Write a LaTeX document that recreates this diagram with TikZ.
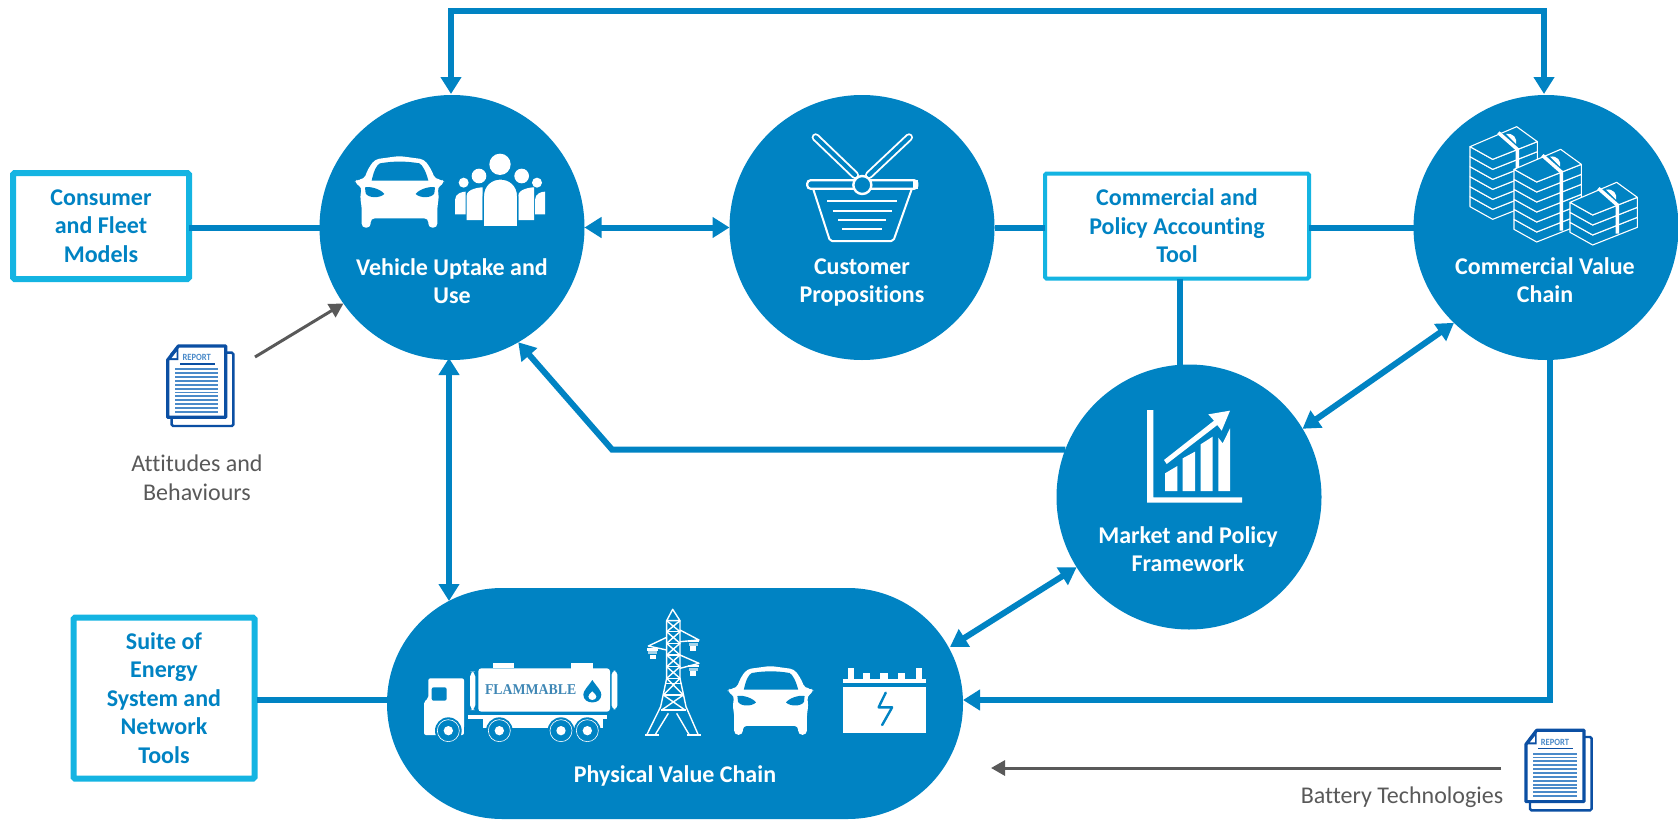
\documentclass[tikz,border=0pt]{standalone}
\usepackage{fontspec}
\setmainfont[Ligatures={NoCommon}]{Carlito}
\newfontfamily\flamfont{Liberation Serif}
\usetikzlibrary{arrows.meta}
\definecolor{mainblue}{HTML}{0083C3}
\definecolor{boxblue}{HTML}{14B4E2}
\definecolor{greyink}{HTML}{595959}
\definecolor{repblue}{HTML}{0B4FA3}
\definecolor{repline}{HTML}{4A8AC9}
\definecolor{flamblue}{HTML}{3F87B5}
\tikzset{
  hub/.style={circle,fill=mainblue,draw=none,inner sep=0pt,outer sep=0pt,minimum size=265pt},
  chainshape/.style={rectangle,fill=mainblue,draw=none,rounded corners=115pt,inner sep=0pt,outer sep=0pt,minimum width=576pt,minimum height=231pt},
  toolbox/.style={rectangle,draw=boxblue,line width=6pt,rounded corners=1.5pt,fill=white,inner sep=0pt,outer sep=0pt,align=center,text=mainblue,font=\fontsize{24}{28.6}\selectfont\bfseries},
  hubtext/.style={align=center,text=white,inner sep=0pt,font=\fontsize{24}{28}\selectfont\bfseries},
  greytext/.style={align=center,text=greyink,inner sep=0pt,font=\fontsize{24}{29}\selectfont},
  link/.style={draw=mainblue,line width=6pt},
  biglink/.style={link,{Triangle[length=17pt,width=20pt]}-{Triangle[length=17pt,width=20pt]}},
  onelink/.style={link,-{Triangle[length=17pt,width=20pt]}},
  greylink/.style={draw=greyink,line width=3pt,-{Triangle[length=14pt,width=15pt]}},
  zoomed/.style={x=0.33333pt,y=-0.33333pt},
}
\newcommand{\carshape}{%
  \fill[white,rounded corners=4pt] (185,443)--(185,380)--(180,350)--(186,322)--(162,308)--(172,298)--(192,298)--(205,265)--(225,238)--(298,228)--(372,238)--(392,265)--(406,298)--(425,298)--(435,308)--(412,322)--(417,350)--(412,380)--(412,443)--(385,443)--(385,415)--(212,415)--(212,443)--cycle;
  \fill[mainblue] (215,302) .. controls (222,270) and (230,255) .. (240,250) .. controls (280,243) and (318,243) .. (358,250) .. controls (368,255) and (378,275) .. (385,302) -- cycle;
  \fill[mainblue] (195,322) .. controls (215,318) and (245,330) .. (253,342) .. controls (240,355) and (205,355) .. (197,340) -- cycle;
  \fill[mainblue] (405,322) .. controls (385,318) and (355,330) .. (347,342) .. controls (360,355) and (395,355) .. (403,340) -- cycle;
}
\newcommand{\reportshape}{%
  \draw[repblue,line width=2.4pt,fill=white,rounded corners=1.5pt] (125,158) rectangle (310,378);
  \draw[repblue,line width=3.2pt,fill=white,line join=round] (145,138)--(287,138)--(287,352)--(113,352)--(113,180)--cycle;
  \fill[repblue] (113,180)--(145,138)--(145,180)--cycle;
  \fill[white] (125,174)--(140,155)--(140,174)--cycle;
  \node[inner sep=0pt,text=repline,font=\fontsize{9.5}{10}\selectfont\bfseries,xscale=.9] at (200,173) {REPORT};
  \draw[repblue,line width=1.2pt] (150,192)--(255,192);
  \foreach \yy in {208,219.6,231.2,242.8,254.4,266,277.6,289.2,300.8,312.4,324,335.6}
    \draw[repline,line width=1.9pt] (135,\yy)--(265,\yy);
}
\newcommand{\moneystack}[3]{%
  \begin{scope}[shift={(#1,#2)}]
  \pgfmathtruncatemacro{\nn}{#3}
  \foreach \i in {\nn,...,1}{
    \pgfmathsetmacro{\tp}{(\i-1)*30}
    \pgfmathsetmacro{\bt}{\i*30}
    \draw[white,line width=1.1pt,fill=mainblue,line join=round] (0,\tp)--(68,38+\tp)--(202,-15+\tp)--(202,-15+\bt)--(68,38+\bt)--(0,\bt)--cycle;
  }
  \draw[white,line width=1.1pt,fill=mainblue,line join=round] (0,0)--(140,-60)--(202,-15)--(68,38)--cycle;
  \fill[white] (108,-38) .. controls (130,-42) and (142,-25) .. (138,-8) -- cycle;
  \draw[white,line width=3.5pt] (85,-42)--(142,8)--(142,{4+30*\nn});
  \end{scope}
}
\begin{document}
\begin{tikzpicture}[x=1pt,y=-1pt]
\useasboundingbox (0,0) rectangle (1678,819);
% main shapes
\node[hub] (vu) at (452,227.5) {};
\node[hub] (cp) at (862,227.5) {};
\node[hub] (cv) at (1546,227.5) {};
\node[hub] (mp) at (1189,497) {};
\node[chainshape] (pv) at (675,703.5) {};
% tool boxes
\node[toolbox,minimum width=176pt,minimum height=106pt] (cf) at (101,226) {Consumer\\and Fleet\\Models};
\node[toolbox,line width=4pt,minimum width=264pt,minimum height=105pt] (ca) at (1177,226) {Commercial and\\Policy Accounting\\Tool};
\node[toolbox,minimum width=181pt,minimum height=161pt] (st) at (164,698) {Suite of\\Energy\\System and\\Network\\Tools};
% free corners and ends on the outline of the chain
\coordinate (tl) at (451,11);
\coordinate (tr) at (1544,11);
\coordinate (vtop) at (451,94);
\coordinate (ctop) at (1544,94);
\coordinate (vd) at (449,358);
\coordinate (pvt) at (449,601);
\coordinate (mbend) at (612,450);
\coordinate (cdown) at (1550,358);
\coordinate (cbend) at (1550,700);
\coordinate (pvr) at (963,700);
\coordinate (pvur) at (950,647);
\coordinate (sr) at (257,700);
\coordinate (pvl) at (387,700);
\coordinate (rep1) at (255,357);
\coordinate (rep2) at (1501,768);
\coordinate (pvb) at (991,768);
% connectors
\draw[biglink] (vtop) -- (tl) -- (tr) -- (ctop);
\draw[link] (cf.east |- vu.west) -- (vu.west);
\draw[biglink] (vu.east) -- (cp.west);
\draw[link] (cp.east) -- (ca.west |- cp.east);
\draw[link] (ca.east |- cv.west) -- (cv.west);
\draw[link] (mp.94 |- ca.south) -- (mp.94);
\draw[onelink,line join=miter] (mp.159) -- (mp.159 -| mbend) -- (vu.-60);
\draw[biglink] (mp.31) -- (cv.-134);
\draw[biglink] (vd) -- (pvt);
\draw[biglink] (mp.-148) -- (pvur);
\draw[onelink] (cdown) -- (cbend) -- (pvr);
\draw[link] (sr) -- (pvl);
\draw[greylink] (rep1) -- (vu.-145);
\draw[greylink] (rep2) -- (pvb);
% hub texts
\node[hubtext] (t1) at (452,281) {Vehicle Uptake and\\Use};
\node[hubtext] (t2) at (862,282.5) {Customer\\Propositions};
\node[hubtext] (t3) at (1545,280) {Commercial Value\\Chain};
\node[hubtext] (t4) at (1188,549) {Market and Policy\\Framework};
\node[hubtext] (t5) at (675,776) {Physical Value Chain};
\node[greytext] (g1) at (197,477.5) {Attitudes and\\Behaviours};
\node[greytext] (g2) at (1402,797) {Battery Technologies};
% car + people
\begin{scope}[shift={(300,80)},zoomed]
  \carshape
  \foreach \xa/\xb/\ya/\yb/\hx/\hy/\hr in {465/497/335/403/491/308/15,705/735/335/403/711/308/15,500/548/322/420/537/288/22,655/702/322/420/665/288/22}{
    \fill[white] (\hx,\hy) circle (\hr);
    \fill[white] (\xa,\yb) -- (\xa,\ya+25) .. controls (\xa,\ya+5) and (\xb-10,\ya) .. (\xb,\ya) -- (\xb,\yb) -- cycle;
  }
  \fill[white] (600,253) circle (32);
  \draw[mainblue,line width=1.2pt,fill=white] (550,440)--(550,350) .. controls (550,315) and (575,297) .. (601,297) .. controls (628,297) and (653,315) .. (653,350) -- (653,440) -- cycle;
\end{scope}
% basket
\begin{scope}[shift={(720,80)},zoomed]
  \foreach \xa/\ya/\xb/\yb in {287/172/405/285,567/172/447/285}{
    \draw[white,line width=8pt,line cap=round] (\xa,\ya)--(\xb,\yb);
    \draw[mainblue,line width=4.2pt,line cap=round] (\xa,\ya)--(\xb,\yb);
  }
  \draw[white,line width=2pt,line join=round,rounded corners=2pt] (280,328)--(330,483)--(520,483)--(575,328);
  \draw[white,line width=2.2pt,rounded corners=3pt] (262,301) rectangle (592,326);
  \fill[white] (580,299) rectangle (594,328);
  \draw[white,line width=2.4pt,fill=mainblue] (427,315) circle (27);
  \foreach \xa/\xb/\yy in {322/530/364,338/515/392,355/497/420,367/485/448}
    \draw[white,line width=2.2pt] (\xa,\yy)--(\xb,\yy);
\end{scope}
% money
\begin{scope}[shift={(1400,100)},zoomed]
  \moneystack{210}{140}{6}
  \moneystack{342}{208}{6}
  \moneystack{510}{307}{3}
\end{scope}
% chart
\begin{scope}[shift={(1100,390)},zoomed]
  \fill[white] (141,60)--(160,60)--(160,322)--(426,322)--(426,338)--(141,338)--cycle;
  \fill[white] (195,250)--(232,228)--(232,303)--(195,303)--cycle;
  \fill[white] (248,205)--(285,185)--(285,303)--(248,303)--cycle;
  \fill[white] (302,163)--(338,140)--(338,303)--(302,303)--cycle;
  \fill[white] (355,143)--(368,160)--(390,115)--(390,303)--(355,303)--cycle;
  \fill[white] (192,210)--(342,92)--(325,73)--(390,62)--(365,122)--(352,105)--(200,222)--cycle;
\end{scope}
% truck
\begin{scope}[shift={(410,640)},zoomed]
  \fill[white,rounded corners=2pt] (42,285)--(42,185)--(55,175)--(55,115)--(162,115)--(162,285)--cycle;
  \fill[mainblue,rounded corners=2pt] (65,142) rectangle (110,182);
  \fill[white,rounded corners=3pt] (205,85) rectangle (600,215);
  \fill[white] (250,70) rectangle (312,84);
  \fill[white] (484,70) rectangle (548,86);
  \fill[white,rounded corners=5pt] (180,95) rectangle (196,210);
  \fill[white,rounded corners=4pt] (605,92) rectangle (622,208);
  \fill[white] (175,225) rectangle (592,237);
  \fill[white] (220,237) rectangle (580,265);
  \foreach \wx in {115,268,453,532} \fill[mainblue] (\wx,272) circle (40);
  \fill[mainblue] (162,262) rectangle (175,290);
  \foreach \wx in {115,268,453,532}{
    \draw[white,line width=.6pt] (\wx,272) circle (33);
    \fill[white] (\wx,272) circle (14);
  }
  \node[inner sep=0pt,text=flamblue,font=\flamfont\fontsize{15}{16}\selectfont\bfseries,xscale=.92] (flam) at (362,150) {FLAMMABLE};
  \fill[mainblue] (547,120) .. controls (562,142) and (574,152) .. (574,164) .. controls (574,195) and (520,195) .. (520,164) .. controls (520,152) and (532,142) .. (547,120) -- cycle;
  \fill[white] (547,154) .. controls (554,161) and (559,165) .. (559,170) .. controls (559,183) and (535,183) .. (535,170) .. controls (535,165) and (540,161) .. (547,154) -- cycle;
\end{scope}
% tower
\begin{scope}[shift={(630,600)},zoomed]
  \begin{scope}[white,line width=1.4pt,line join=round]
    \draw (110,62)--(128,28)--(150,62)--cycle;
    \draw (110,62)--(110,235)--(92,320)--(50,405);
    \draw (150,62)--(150,235)--(168,320)--(205,405);
    \draw (110,62)--(150,95)--(110,130)--(150,165)--(110,200)--(150,235)--(100,285)--(165,330)--(95,330)--(160,285)--(110,235)--(150,200)--(110,165)--(150,130)--(110,95)--(150,62);
    \draw (110,95)--(150,95) (110,130)--(150,130) (110,165)--(150,165) (110,200)--(150,200) (110,235)--(150,235) (105,250)--(155,250) (100,285)--(160,285) (92,330)--(168,330);
    \draw (115,340)--(75,405) (140,340)--(178,405);
    \draw (110,112)--(55,138)--(110,150);
    \draw (150,90)--(207,120)--(150,125);
    \draw (150,165)--(207,190)--(150,205);
    \draw[line width=2.6pt] (45,405)--(86,405) (172,405)--(212,405);
  \end{scope}
  \foreach \ix/\iy in {68/145,190/120,190/195}{
    \fill[white] (\ix-16,\iy) rectangle (\ix+16,\iy+7);
    \fill[white!65!mainblue] (\ix-14,\iy+8) rectangle (\ix+14,\iy+18);
    \fill[white] (\ix-9,\iy+19) rectangle (\ix+9,\iy+33);
  }
\end{scope}
% battery
\begin{scope}[shift={(400,600)},x=0.35714pt,y=-0.33333pt]
  \fill[white] (1240,236) rectangle (1472,250);
  \fill[white] (1240,262) rectangle (1472,398);
  \fill[white] (1255,205) rectangle (1272,236);
  \fill[white] (1445,205) rectangle (1462,236);
  \foreach \bx in {1295,1345,1395} \fill[white] (\bx,218) rectangle (\bx+20,236);
  \draw[mainblue,line width=2.4pt,line join=round,line cap=round] (1360,278)--(1340,322)--(1378,322)--(1350,375);
\end{scope}
\begin{scope}[shift={(675,593)},x=0.32pt,y=-0.32pt]
  \carshape
\end{scope}
% reports
\begin{scope}[shift={(130,300)},zoomed]
  \reportshape
\end{scope}
\begin{scope}[shift={(1488.3,684.3)},zoomed]
  \reportshape
\end{scope}
\end{tikzpicture}
\end{document}
